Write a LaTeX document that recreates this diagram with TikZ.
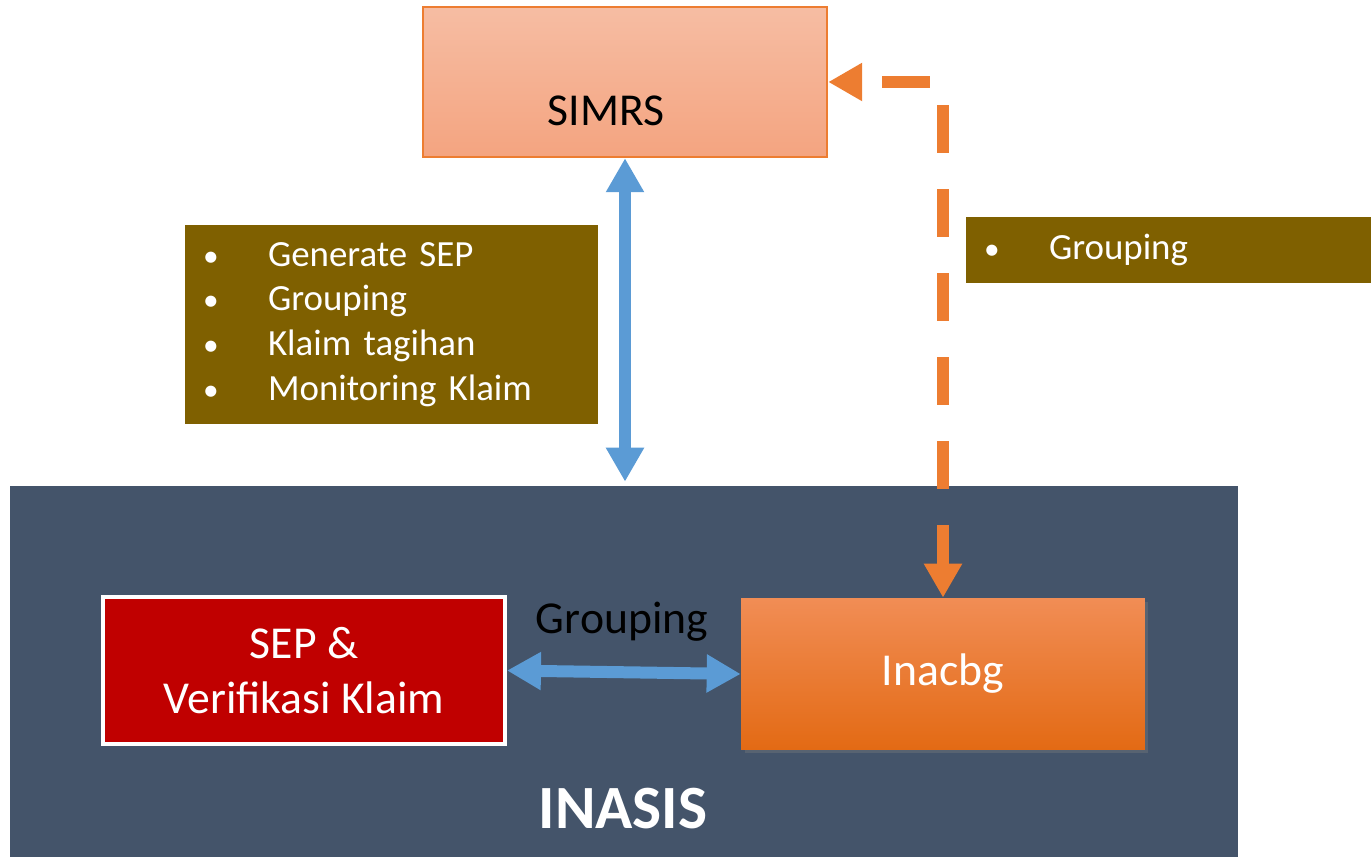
\documentclass[tikz,border=0pt]{standalone}
\usepackage{fontspec}
\setmainfont{Carlito}
\usetikzlibrary{arrows.meta,shadows}
\definecolor{simrsline}{HTML}{ED7D31}
\definecolor{simrstop}{HTML}{F6BDA3}
\definecolor{simrsbot}{HTML}{F4A480}
\definecolor{infobrown}{HTML}{7F6000}
\definecolor{inasisblue}{HTML}{44546A}
\definecolor{sepred}{HTML}{C00000}
\definecolor{inatop}{HTML}{F18D55}
\definecolor{inabot}{HTML}{E36A14}
\definecolor{linkblue}{HTML}{5B9BD5}
\definecolor{linkorange}{HTML}{ED7D31}
\newcommand{\bul}{\hspace*{-0.08cm}\makebox[1.3cm][l]{\scalebox{0.85}{\textbullet}}}

\begin{document}
\begin{tikzpicture}[x=0.02cm,y=-0.02cm,
    >={Triangle[width=0.72cm,length=0.68cm]},
    simrsbox/.style={draw=simrsline,line width=0.05cm,top color=simrstop,bottom color=simrsbot,minimum width=8.08cm,minimum height=3cm},
    infobox/.style={fill=infobrown,text=white,align=left,inner xsep=0.44cm,font=\fontsize{21pt}{25.5pt}\selectfont},
    bigtext/.style={font=\fontsize{26pt}{31pt}\selectfont},
    bluelink/.style={<->,draw=linkblue,line width=0.24cm},
    orangelink/.style={<->,draw=linkorange,line width=0.24cm,dash pattern=on 0.96cm off 0.72cm,dash phase=1.24cm}]
    \useasboundingbox (0,0) rectangle (1371,857);
    \node[fill=inasisblue,minimum width=24.56cm,minimum height=7.42cm] (inasis) at (624,671.5) {};
    \node[simrsbox,label={[bigtext,xshift=-0.38cm,yshift=-0.58cm]center:SIMRS}] (simrs) at (625,82) {};
    \node[infobox,text width=7.38cm,minimum height=3.98cm] (simrsinfo) at (391.5,324.5)
        {\bul Generate SEP\\ \bul Grouping\\ \bul Klaim tagihan\\ \bul Monitoring Klaim};
    \node[infobox,text width=7.22cm,minimum height=1.32cm,inner xsep=0.44cm] (inainfo) at (1168.5,250)
        {\bul Grouping};
    \node[bigtext,fill=sepred,draw=white,line width=0.08cm,text=white,align=center,minimum width=8.04cm,minimum height=2.94cm] (sep) at (304,670.5)
        {SEP \&\\Verifikasi Klaim};
    \node[bigtext,top color=inatop,bottom color=inabot,text=white,minimum width=8.08cm,minimum height=3.04cm,
        drop shadow={opacity=0.35,shadow xshift=0.07cm,shadow yshift=-0.07cm}] (inacbg) at (943,674) {Inacbg};
    \node[bigtext,text=black] (grouplabel) at (622,622) {Grouping};
    \node[font=\fontsize{35pt}{40pt}\selectfont\bfseries,text=white] (inasislabel) at (623,809) {INASIS};
    \coordinate (inasistop) at (simrs.south |- inasis.north);
    \draw[bluelink,shorten >=0.08cm] (simrs.south) -- (inasistop);
    \draw[bluelink] (sep.east) -- (inacbg.west);
    \draw[orangelink] (simrs.east) -| (inacbg.north);
\end{tikzpicture}
\end{document}
